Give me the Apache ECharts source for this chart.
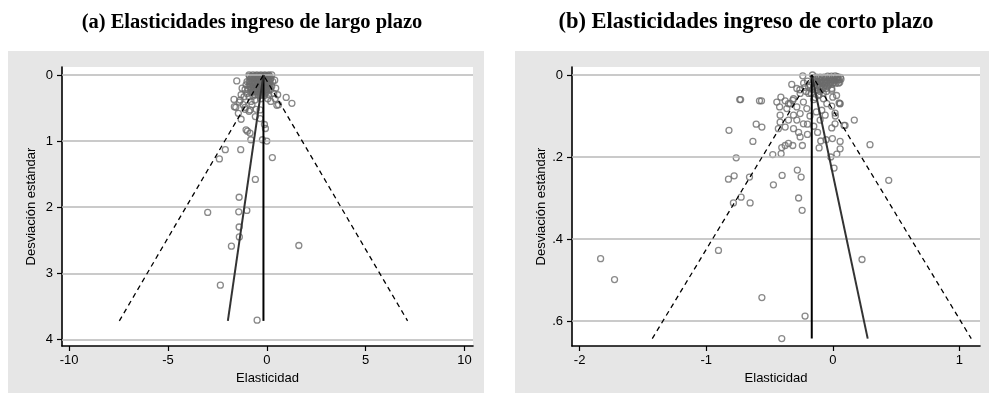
<!DOCTYPE html>
<html>
<head>
<meta charset="utf-8">
<script src="https://cdn.jsdelivr.net/npm/echarts@6/dist/echarts.min.js"></script>
<style>html,body{margin:0;padding:0;background:#fff;}#c{width:989px;height:393px;}</style>
</head>
<body>
<div id="c"></div>
<script>
// ---------- DATA ----------
const titleA = "(a) Elasticidades ingreso de largo plazo";
const titleB = "(b) Elasticidades ingreso de corto plazo";
const xNameA = "Elasticidad", yNameA = "Desviación estándar";
const xTicksA = [-10, -5, 0, 5, 10];
const yTicksA = [0, 1, 2, 3, 4];
const xTicksB = [-2, -1, 0, 1];
const yTicksB = [0, 0.2, 0.4, 0.6];

// Panel (a): [elasticity, standard deviation]
const pointsA = [
  [-1.52,0.09],[0.98,0.34],[1.27,0.43],[0.59,0.45],[-1.66,0.37],[-1.64,0.48],[-1.57,0.49],[-1.35,0.38],
  [-1.44,0.58],[-1.30,0.67],[-1.39,0.41],[-1.20,0.45],[-1.10,0.52],[-0.58,0.63],[-0.34,0.66],[-0.12,0.75],
  [-0.07,0.81],[-1.05,0.83],[-0.98,0.85],[-0.85,0.88],[-0.81,0.98],[-0.22,0.98],[0.0,1.0],[-1.32,1.13],
  [-2.10,1.13],[-2.40,1.27],[0.28,1.25],[-0.58,1.58],[-1.40,1.85],[-2.99,2.08],[-1.42,2.07],[-1.01,2.05],
  [-1.40,2.30],[-1.39,2.45],[-1.79,2.59],[1.62,2.58],[-2.35,3.18],[-0.49,3.71],[0.51,0.46],[0.42,0.36],
  [0.2,0.4],[-0.9,0.55],[-0.75,0.45],[-1.1,0.49],[-0.85,0.53],[-0.54,0.52],[-0.34,0.53],
  [-0.9,0.0],[-0.7,0.0],[-0.5,0.0],[-0.3,0.0],[-0.1,0.0],[0.1,0.0],[0.25,0.0],[-0.8,0.05],[-0.6,0.05],
  [-0.4,0.05],[-0.2,0.05],[0.0,0.05],[0.2,0.05],[-1.0,0.1],[-0.85,0.1],[-0.65,0.1],[-0.45,0.1],[-0.25,0.1],
  [-0.05,0.1],[0.15,0.1],[0.3,0.1],[-1.05,0.15],[-0.9,0.17],[-0.7,0.15],[-0.5,0.15],[-0.3,0.15],[-0.1,0.15],
  [0.1,0.15],[0.25,0.17],[-1.1,0.22],[-0.95,0.22],[-0.75,0.2],[-0.55,0.2],[-0.35,0.2],[-0.15,0.2],[0.05,0.2],
  [0.2,0.22],[-1.0,0.28],[-0.8,0.27],[-0.6,0.25],[-0.4,0.25],[-0.2,0.25],[0.0,0.25],[0.35,0.28],[-1.15,0.33],
  [-0.9,0.33],[-0.7,0.32],[-0.45,0.3],[-0.25,0.3],[0.1,0.3],[-0.6,0.38],[-0.3,0.36],[0.05,0.36],[-0.8,0.4],
  [-1.3,0.3],[-1.25,0.2],[0.45,0.2],[0.55,0.3],[0.4,0.08],[-0.15,0.02],[-0.35,0.02],[-0.55,0.03],[-0.75,0.03],
  [0.05,0.02],[-0.62,0.12],[-0.42,0.18],[-0.22,0.12],[-0.02,0.18],[-0.5,0.08],[-0.3,0.08],[-0.1,0.07],
  // dense core
  [-0.88,0.02],[-0.73,0.02],[-0.58,0.01],[-0.43,0.01],[-0.28,0.01],[-0.13,0.01],[0.02,0.01],[0.14,0.02],
  [-0.83,0.06],[-0.68,0.06],[-0.53,0.05],[-0.38,0.06],[-0.23,0.06],[-0.08,0.05],[0.07,0.06],[0.18,0.07],
  [-0.9,0.1],[-0.76,0.1],[-0.6,0.1],[-0.47,0.11],[-0.32,0.1],[-0.17,0.1],[-0.02,0.11],[0.1,0.1],
  [-0.85,0.14],[-0.72,0.14],[-0.57,0.14],[-0.42,0.14],[-0.27,0.14],[-0.12,0.14],[0.03,0.14],[0.15,0.14],
  [-0.82,0.18],[-0.67,0.18],[-0.52,0.18],[-0.37,0.18],[-0.22,0.18],[-0.07,0.18],[0.08,0.18],
  [-0.78,0.22],[-0.63,0.22],[-0.48,0.22],[-0.33,0.22],[-0.18,0.22],[-0.03,0.22],[0.1,0.23],
  [-0.72,0.26],[-0.55,0.26],[-0.38,0.27],[-0.23,0.26],[-0.08,0.27],[-0.6,0.3],[-0.35,0.31],[-0.12,0.31]
];
// Panel (a) funnel: pooled estimate, max SE, regression line bottom, 95% bounds at max SE
const pooledA = -0.17, maxSeA = 3.72, slopeEndA = -1.97, lowerA = -7.46, upperA = 7.12;

// Panel (b): [elasticity, standard deviation]
const pointsB = [
  [-0.237,0.002],[-0.324,0.023],[-0.735,0.06],[-0.728,0.06],[-0.579,0.063],[-0.563,0.063],[-0.41,0.054],
  [-0.442,0.066],[-0.42,0.078],[-0.376,0.063],[-0.35,0.07],[-0.316,0.062],[-0.26,0.036],[-0.008,0.037],
  [0.0,0.054],[0.05,0.068],[0.055,0.07],[-0.008,0.076],[0.018,0.093],[0.17,0.11],[0.089,0.123],[0.018,0.119],
  [-0.008,0.129],[0.294,0.17],[0.442,0.257],[-0.82,0.135],[-0.605,0.12],[-0.56,0.127],[-0.43,0.131],
  [-0.631,0.162],[-0.763,0.202],[-0.824,0.254],[-0.779,0.246],[-0.658,0.249],[-0.469,0.268],[-0.40,0.245],
  [-0.28,0.232],[-0.25,0.249],[-0.785,0.312],[-0.724,0.298],[-0.653,0.312],[-0.27,0.30],[-0.242,0.33],
  [-0.474,0.194],[-0.408,0.192],[-0.403,0.177],[-0.376,0.172],[-0.35,0.167],[-0.316,0.172],[-0.24,0.172],
  [-0.258,0.151],[-0.108,0.178],[-0.095,0.161],[-0.053,0.158],[-0.003,0.155],[0.058,0.162],[0.058,0.18],
  [0.032,0.193],[-0.016,0.2],[0.01,0.227],[-0.903,0.428],[-1.834,0.448],[-1.724,0.499],[0.231,0.45],
  [-0.56,0.543],[-0.219,0.588],[-0.403,0.643],
  [-0.284,0.033],[-0.258,0.045],[-0.31,0.058],[-0.337,0.07],[-0.363,0.082],[-0.284,0.078],[-0.232,0.066],
  [-0.205,0.082],[-0.258,0.094],[-0.31,0.098],[-0.284,0.11],[-0.232,0.119],[-0.35,0.11],[-0.416,0.098],
  [-0.416,0.115],[-0.376,0.127],[-0.31,0.131],[-0.114,0.05],[-0.074,0.058],[-0.047,0.07],[-0.008,0.033],
  [-0.087,0.086],[-0.06,0.098],[0.058,0.07],[0.097,0.123],[-0.15,0.06],[-0.13,0.09],[-0.18,0.1],[-0.2,0.12],
  [-0.15,0.125],[-0.1,0.11],[-0.12,0.14],[-0.2,0.145],[-0.27,0.14],[-0.22,0.03],[-0.19,0.045],[-0.1,0.03],
  [-0.05,0.04],[0.03,0.05],[0.02,0.1],
  [-0.16,0.0],[-0.13,0.005],[-0.1,0.005],[-0.07,0.005],[-0.04,0.003],[-0.01,0.003],[0.02,0.002],[0.04,0.005],
  [-0.15,0.012],[-0.12,0.015],[-0.09,0.013],[-0.06,0.012],[-0.03,0.012],[0.0,0.012],[0.03,0.01],[-0.14,0.02],
  [-0.11,0.022],[-0.08,0.02],[-0.05,0.02],[-0.02,0.02],[-0.18,0.025],[-0.2,0.015],[-0.12,0.03],[-0.07,0.03],
  [-0.04,0.028],[0.01,0.018],[-0.16,0.035],[-0.1,0.04],[-0.21,0.04],[-0.23,0.02],[0.05,0.012],[0.045,0.02],
  // dense core
  [-0.145,0.006],[-0.115,0.008],[-0.085,0.008],[-0.055,0.007],[-0.025,0.007],[0.005,0.006],[0.035,0.004],[0.06,0.006],
  [-0.135,0.016],[-0.105,0.017],[-0.075,0.016],[-0.045,0.016],[-0.015,0.015],[0.015,0.013],[0.04,0.012],[0.065,0.01],
  [-0.125,0.025],[-0.095,0.026],[-0.065,0.025],[-0.035,0.024],[-0.005,0.022],[0.025,0.02],[-0.15,0.028],[-0.085,0.034],
  [-0.055,0.033],[-0.13,0.038],[-0.17,0.045],[-0.11,0.048],[-0.075,0.045],[-0.14,0.055],[-0.19,0.03],[0.055,0.018]
];
const pooledB = -0.166, maxSeB = 0.643, slopeEndB = 0.276, lowerB = -1.426, upperB = 1.094;

// ---------- CHART ----------
const FONT = "Liberation Sans, Arial, sans-serif";
const chart = echarts.init(document.getElementById('c'), null, {renderer: 'canvas'});

function axisX(idx, ticks, min, max, name) {
  return {
    type: 'value', gridIndex: idx, min: min, max: max, name: name,
    nameLocation: 'middle', nameGap: 25,
    nameTextStyle: {color: '#000', fontFamily: FONT, fontSize: 13},
    axisLine: {show: true, onZero: false, lineStyle: {color: '#000', width: 1.6}},
    axisTick: {show: true, customValues: ticks, length: 5, lineStyle: {color: '#000', width: 1.2}},
    axisLabel: {customValues: ticks, color: '#000', fontFamily: FONT, fontSize: 13, margin: 8,
      formatter: v => String(v)},
    splitLine: {show: false}
  };
}
function axisY(idx, ticks, min, max, name, fmt) {
  return {
    type: 'value', gridIndex: idx, min: min, max: max, inverse: true, name: name,
    nameLocation: 'middle', nameGap: 24,
    nameTextStyle: {color: '#000', fontFamily: FONT, fontSize: 13},
    axisLine: {show: true, onZero: false, lineStyle: {color: '#000', width: 1.6}},
    axisTick: {show: true, customValues: ticks, length: 5, lineStyle: {color: '#000', width: 1.2}},
    axisLabel: {customValues: ticks, color: '#000', fontFamily: FONT, fontSize: 13, margin: 9, formatter: fmt},
    splitLine: {show: false}
  };
}
const fmtB = v => (Math.abs(v) < 1e-9 ? '0' : String(v).replace(/^0\./, '.'));

function panelSeries(idx, pts, yTicks, pooled, maxSe, slopeEnd, lower, upper) {
  const lineBase = {type: 'line', xAxisIndex: idx, yAxisIndex: idx, symbol: 'none', silent: true, animation: false};
  return [
    {type: 'scatter', xAxisIndex: idx, yAxisIndex: idx, data: pts, symbol: 'circle', symbolSize: 6,
      itemStyle: {color: 'rgba(255,255,255,0)', borderColor: '#6b6b6b', borderWidth: 1.3},
      animation: false, z: 3, large: false,
      markLine: {silent: true, symbol: 'none', label: {show: false},
        lineStyle: {color: '#b9b9b9', width: 1.5, type: 'solid'},
        data: yTicks.map(v => ({yAxis: v}))}},
    Object.assign({}, lineBase, {data: [[pooled, 0], [pooled, maxSe]], z: 5,
      lineStyle: {color: '#000', width: 2}}),
    Object.assign({}, lineBase, {data: [[pooled, 0], [slopeEnd, maxSe]], z: 5,
      lineStyle: {color: '#333', width: 2}}),
    Object.assign({}, lineBase, {data: [[lower, maxSe], [pooled, 0], [upper, maxSe]], z: 5,
      lineStyle: {color: '#000', width: 1.3, type: [5, 4]}})
  ];
}

chart.setOption({
  backgroundColor: '#fff',
  animation: false,
  title: [
    {text: titleA, left: 247, top: 7, textAlign: 'center',
      textStyle: {fontFamily: 'Liberation Serif, serif', fontWeight: 'bold', fontSize: 20.5, color: '#000'}},
    {text: titleB, left: 741, top: 6, textAlign: 'center',
      textStyle: {fontFamily: 'Liberation Serif, serif', fontWeight: 'bold', fontSize: 22.5, color: '#000'}}
  ],
  graphic: [
    {type: 'rect', shape: {x: 8, y: 51, width: 476, height: 342}, style: {fill: '#e6e6e6'}, z: -10, silent: true},
    {type: 'rect', shape: {x: 515, y: 51, width: 474, height: 342}, style: {fill: '#e6e6e6'}, z: -10, silent: true}
  ],
  grid: [
    {left: 62, top: 67, width: 411, height: 279, show: true, backgroundColor: '#fff', borderWidth: 0, z: 0},
    {left: 572, top: 67, width: 408, height: 279, show: true, backgroundColor: '#fff', borderWidth: 0, z: 0}
  ],
  xAxis: [
    axisX(0, xTicksA, -10.36, 10.43, xNameA),
    axisX(1, xTicksB, -2.06, 1.163, xNameA)
  ],
  yAxis: [
    axisY(0, yTicksA, -0.12, 4.1, yNameA, v => String(v)),
    axisY(1, yTicksB, -0.0195, 0.661, yNameA, fmtB)
  ],
  series: [].concat(
    panelSeries(0, pointsA, yTicksA, pooledA, maxSeA, slopeEndA, lowerA, upperA),
    panelSeries(1, pointsB, yTicksB, pooledB, maxSeB, slopeEndB, lowerB, upperB)
  )
});
</script>
</body>
</html>
